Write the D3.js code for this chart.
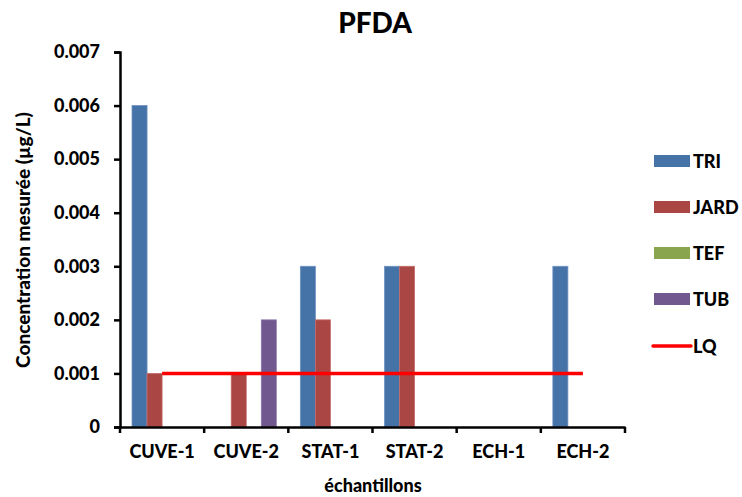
<!DOCTYPE html>
<html>
<head>
<meta charset="utf-8">
<script src="https://d3js.org/d3.v7.min.js"></script>
<style>
body { margin: 0; background: #fff; }
svg text { font-family: Lato, "Open Sans", sans-serif; font-weight: 900; fill: #000; }
</style>
</head>
<body>
<div id="chart"></div>
<script>
var width = 742;
var height = 497;

// Data
var categories = ["CUVE-1", "CUVE-2", "STAT-1", "STAT-2", "ECH-1", "ECH-2"];
var seriesNames = ["TRI", "JARD", "TEF", "TUB"];
var tri  = [0.006, 0, 0.003, 0.003, 0, 0.003];
var jard = [0.001, 0.001, 0.002, 0.003, 0, 0];
var tef  = [0, 0, 0, 0, 0, 0];
var tub  = [0, 0.002, 0, 0, 0, 0];
var lq   = [0.001, 0.001, 0.001, 0.001, 0.001, 0.001];
var yTicks = [0, 0.001, 0.002, 0.003, 0.004, 0.005, 0.006, 0.007];

var colors = ["#4572A7", "#AA4643", "#89A54E", "#71588F"];
var edges = ["#6f92c2", "#c46d6a", "#a7c072", "#9078ad"];
var series = [tri, jard, tef, tub];

var svg = d3.select("#chart").append("svg")
  .attr("width", width).attr("height", height);

var plotLeft = 120, plotRight = 625, plotTop = 52, plotBottom = 427;

var xScale = d3.scaleBand().domain(categories).range([plotLeft, plotRight]);
var xInner = d3.scaleBand().domain(seriesNames).range([0, xScale.bandwidth()]).paddingOuter(0.8);
var yScale = d3.scaleLinear().domain([0, 0.007]).range([plotBottom, plotTop]);

// Title
svg.append("text").attr("x", 375).attr("y", 33)
  .attr("text-anchor", "middle").style("font-size", "28px").text("PFDA");

// Bars
series.forEach(function (vals, si) {
  svg.append("g").selectAll("rect")
    .data(vals).enter().append("rect")
    .attr("x", function (d, i) { return xScale(categories[i]) + xInner(seriesNames[si]); })
    .attr("width", xInner.bandwidth())
    .attr("y", function (d) { return yScale(d); })
    .attr("height", function (d) { return plotBottom - yScale(d); })
    .attr("fill", colors[si])
    .attr("stroke", function (d) { return d > 0 ? edges[si] : "none"; })
    .attr("stroke-width", 0.8);
});

// Axes
var yAxis = d3.axisLeft(yScale).tickValues(yTicks).tickFormat(d3.format(".3f")).tickSizeOuter(0).tickSize(6).tickPadding(14);
var gy = svg.append("g").attr("transform", "translate(" + plotLeft + ",0)").call(yAxis);
gy.select(".domain").attr("stroke-width", 2.5);
gy.selectAll(".tick line").attr("stroke-width", 2.5);
gy.selectAll("text").style("font-size", "18px");
gy.selectAll(".tick").filter(function (d) { return d === 0; }).select("text").text("0");

var xAxis = d3.axisBottom(xScale).tickSize(0).tickSizeOuter(0).tickPadding(18);
var gx = svg.append("g").attr("transform", "translate(0," + plotBottom + ")").call(xAxis);
gx.select(".domain").attr("stroke-width", 2.5);
gx.selectAll("text").style("font-size", "18px");
// tick marks between categories
var bounds = categories.map(function (c) { return xScale(c); }).concat([plotRight]);
gx.selectAll("line.sep").data(bounds).enter().append("line")
  .attr("class", "sep")
  .attr("x1", function (d) { return d; }).attr("x2", function (d) { return d; })
  .attr("y1", 0).attr("y2", 6)
  .attr("stroke", "#000").attr("stroke-width", 2.5);

// LQ line
var lqLine = d3.line()
  .x(function (d, i) { return xScale(categories[i]) + xScale.bandwidth() / 2; })
  .y(function (d) { return yScale(d); });
svg.append("path").datum(lq).attr("d", lqLine)
  .attr("fill", "none").attr("stroke", "#FF0000").attr("stroke-width", 3.5);

// Axis labels
svg.append("text").attr("x", 373).attr("y", 492)
  .attr("text-anchor", "middle").style("font-size", "18px").text("échantillons");
svg.append("text").attr("transform", "translate(30,240) rotate(-90)")
  .attr("text-anchor", "middle").style("font-size", "19px").text("Concentration mesurée (µg/L)");

// Legend
var legendY = [161, 207, 253, 299];
seriesNames.forEach(function (name, i) {
  svg.append("rect").attr("x", 654).attr("y", legendY[i] - 6)
    .attr("width", 36).attr("height", 12).attr("fill", colors[i]);
  svg.append("text").attr("x", 693).attr("y", legendY[i] + 7)
    .style("font-size", "18px").text(name);
});
svg.append("line").attr("x1", 653).attr("x2", 691).attr("y1", 346).attr("y2", 346)
  .attr("stroke", "#FF0000").attr("stroke-width", 3.5).attr("stroke-linecap", "round");
svg.append("text").attr("x", 693).attr("y", 353).style("font-size", "18px").text("LQ");
</script>
</body>
</html>
